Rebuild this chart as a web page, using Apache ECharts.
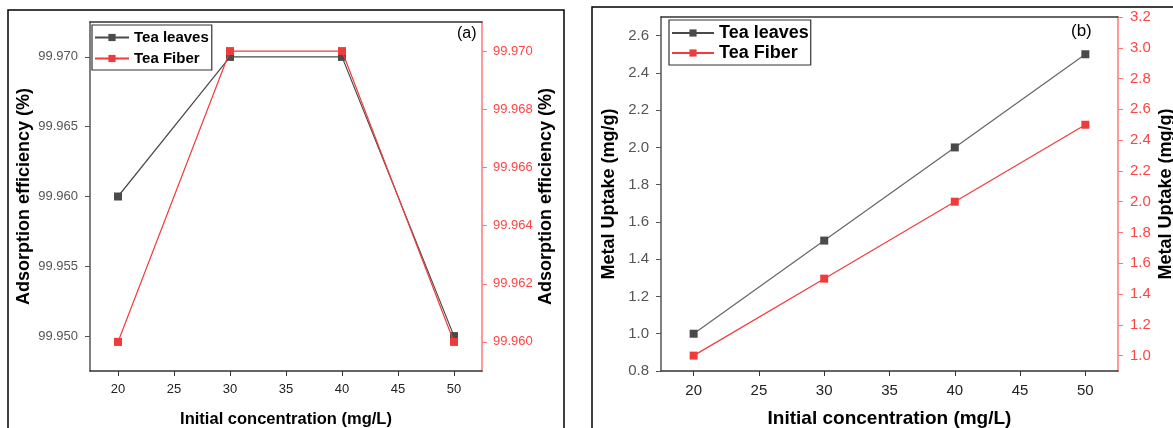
<!DOCTYPE html>
<html>
<head>
<meta charset="utf-8">
<script src="https://cdn.jsdelivr.net/npm/echarts@6/dist/echarts.min.js"></script>
<style>
html,body{margin:0;padding:0;background:#fff;}
#c{width:1173px;height:428px;}
</style>
</head>
<body>
<div id="c"></div>
<script>
// ---- data ----
var concentrations = [20, 30, 40, 50];
var effLeaves = [99.960, 99.970, 99.970, 99.950];
var effFiber = [99.960, 99.970, 99.970, 99.960];
var uptakeLeaves = [1.0, 1.5, 2.0, 2.5];
var uptakeFiber = [1.0, 1.5, 2.0, 2.5];
// ---- tick labels ----
var xTicks = [20, 25, 30, 35, 40, 45, 50];
var effLeftTicks = [99.950, 99.955, 99.960, 99.965, 99.970];
var effRightTicks = [99.960, 99.962, 99.964, 99.966, 99.968, 99.970];
var upLeftTicks = [0.8, 1.0, 1.2, 1.4, 1.6, 1.8, 2.0, 2.2, 2.4, 2.6];
var upRightTicks = [1.0, 1.2, 1.4, 1.6, 1.8, 2.0, 2.2, 2.4, 2.6, 2.8, 3.0, 3.2];

function pairs(xs, ys) { return xs.map(function (x, i) { return [x, ys[i]]; }); }

var FONT = 'Liberation Sans, Arial, sans-serif';
var DARK = '#333';
var GRAYTXT = '#555';
var RED = '#f03c3c';
var REDAX = '#f77';

function xAxisMain(grid, fs, titleFs, gap) {
  return {
    type: 'value', gridIndex: grid, min: 17.5, max: 52.5,
    name: 'Initial concentration (mg/L)', nameLocation: 'middle', nameGap: gap,
    nameTextStyle: { fontFamily: FONT, fontWeight: 'bold', fontSize: titleFs, color: '#000' },
    axisLine: { show: true, lineStyle: { color: DARK, width: 1.5 } },
    axisTick: { show: true, length: 5, customValues: xTicks, lineStyle: { color: DARK } },
    axisLabel: { customValues: xTicks, fontFamily: FONT, fontSize: fs, color: '#222', margin: 12 },
    splitLine: { show: false }
  };
}
function xAxisTop(grid) {
  return {
    type: 'value', gridIndex: grid, position: 'top', min: 17.5, max: 52.5,
    axisLine: { show: true, lineStyle: { color: DARK, width: 1.5 } },
    axisTick: { show: false }, axisLabel: { show: false }, splitLine: { show: false }
  };
}
function yAxis(grid, pos, min, max, ticks, dec, name, fs, titleFs, gap, margin) {
  var isRight = pos === 'right';
  return {
    type: 'value', gridIndex: grid, position: pos, min: min, max: max,
    name: name, nameLocation: 'middle', nameRotate: 90, nameGap: gap,
    nameTextStyle: { fontFamily: FONT, fontWeight: 'bold', fontSize: titleFs, color: '#000' },
    axisLine: { show: true, lineStyle: { color: isRight ? REDAX : '#555', width: 1.5 } },
    axisTick: { show: true, length: 5, customValues: ticks, lineStyle: { color: isRight ? REDAX : '#555' } },
    axisLabel: {
      customValues: ticks, fontFamily: FONT, fontSize: fs,
      color: isRight ? '#f44' : GRAYTXT, margin: margin,
      formatter: function (v) { return Number(v).toFixed(dec); }
    },
    splitLine: { show: false }
  };
}
function legend(left, top, fs, gap, iw, pad) {
  return {
    orient: 'vertical', left: left, top: top,
    data: ['Tea leaves', 'Tea Fiber'],
    itemWidth: iw, itemHeight: 9, itemGap: gap,
    borderColor: DARK, borderWidth: 1.2, padding: pad,
    textStyle: { fontFamily: FONT, fontWeight: 'bold', fontSize: fs, color: '#000' },
    selectedMode: false
  };
}
function lineSeries(name, xi, yi, data, color, lineColor, size) {
  return {
    type: 'line', name: name, xAxisIndex: xi, yAxisIndex: yi,
    data: data, symbol: 'rect', symbolSize: size,
    itemStyle: { color: color },
    lineStyle: { color: lineColor, width: 1.2 },
    z: name === 'Tea leaves' ? 3 : 4,
    animation: false
  };
}

var chart = echarts.init(document.getElementById('c'), null, { renderer: 'canvas' });
chart.setOption({
  backgroundColor: '#fff',
  animation: false,
  grid: [
    { left: 90, top: 22, right: 691, bottom: 57, containLabel: false, outerBoundsMode: 'none' },
    { left: 661, top: 17, right: 55, bottom: 57, containLabel: false, outerBoundsMode: 'none' }
  ],
  xAxis: [xAxisMain(0, 13, 16.5, 40), xAxisMain(1, 15, 19, 38), xAxisTop(0), xAxisTop(1)],
  yAxis: [
    yAxis(0, 'left', 99.9475, 99.9725, effLeftTicks, 3, 'Adsorption efficiency (%)', 13, 18, 57, 12),
    yAxis(0, 'right', 99.959, 99.971, effRightTicks, 3, 'Adsorption efficiency (%)', 13, 18, 55, 11),
    yAxis(1, 'left', 0.8, 2.7, upLeftTicks, 1, 'Metal Uptake (mg/g)', 15, 18, 43, 12),
    yAxis(1, 'right', 0.9, 3.2, upRightTicks, 1, 'Metal Uptake (mg/g)', 15, 18, 39, 12)
  ],
  legend: [
    legend(92, 25, 15, 6, 34, [5, 3, 4, 2]),
    legend(669, 20, 18, 2, 42, [4, 2, 3, 2])
  ],
  graphic: [
    { type: 'rect', shape: { x: 8, y: 10, width: 556, height: 440 }, style: { fill: 'none', stroke: '#000', lineWidth: 1.5 }, z: -1, silent: true },
    { type: 'rect', shape: { x: 592, y: 7, width: 640, height: 440 }, style: { fill: 'none', stroke: '#000', lineWidth: 1.5 }, z: -1, silent: true },
    { type: 'text', left: 457, top: 26, style: { text: '(a)', fontFamily: FONT, fontSize: 16, fill: '#000' } },
    { type: 'text', left: 1071, top: 23, style: { text: '(b)', fontFamily: FONT, fontSize: 17, fill: '#000' } }
  ],
  series: [
    lineSeries('Tea leaves', 0, 0, pairs(concentrations, effLeaves), '#4a4a4a', '#4a4a4a', 8),
    lineSeries('Tea Fiber', 0, 1, pairs(concentrations, effFiber), '#ee3b3b', RED, 8),
    lineSeries('Tea leaves', 1, 2, pairs(concentrations, uptakeLeaves), '#4a4a4a', '#666', 8),
    lineSeries('Tea Fiber', 1, 3, pairs(concentrations, uptakeFiber), '#ee3b3b', RED, 8)
  ]
});
</script>
</body>
</html>
